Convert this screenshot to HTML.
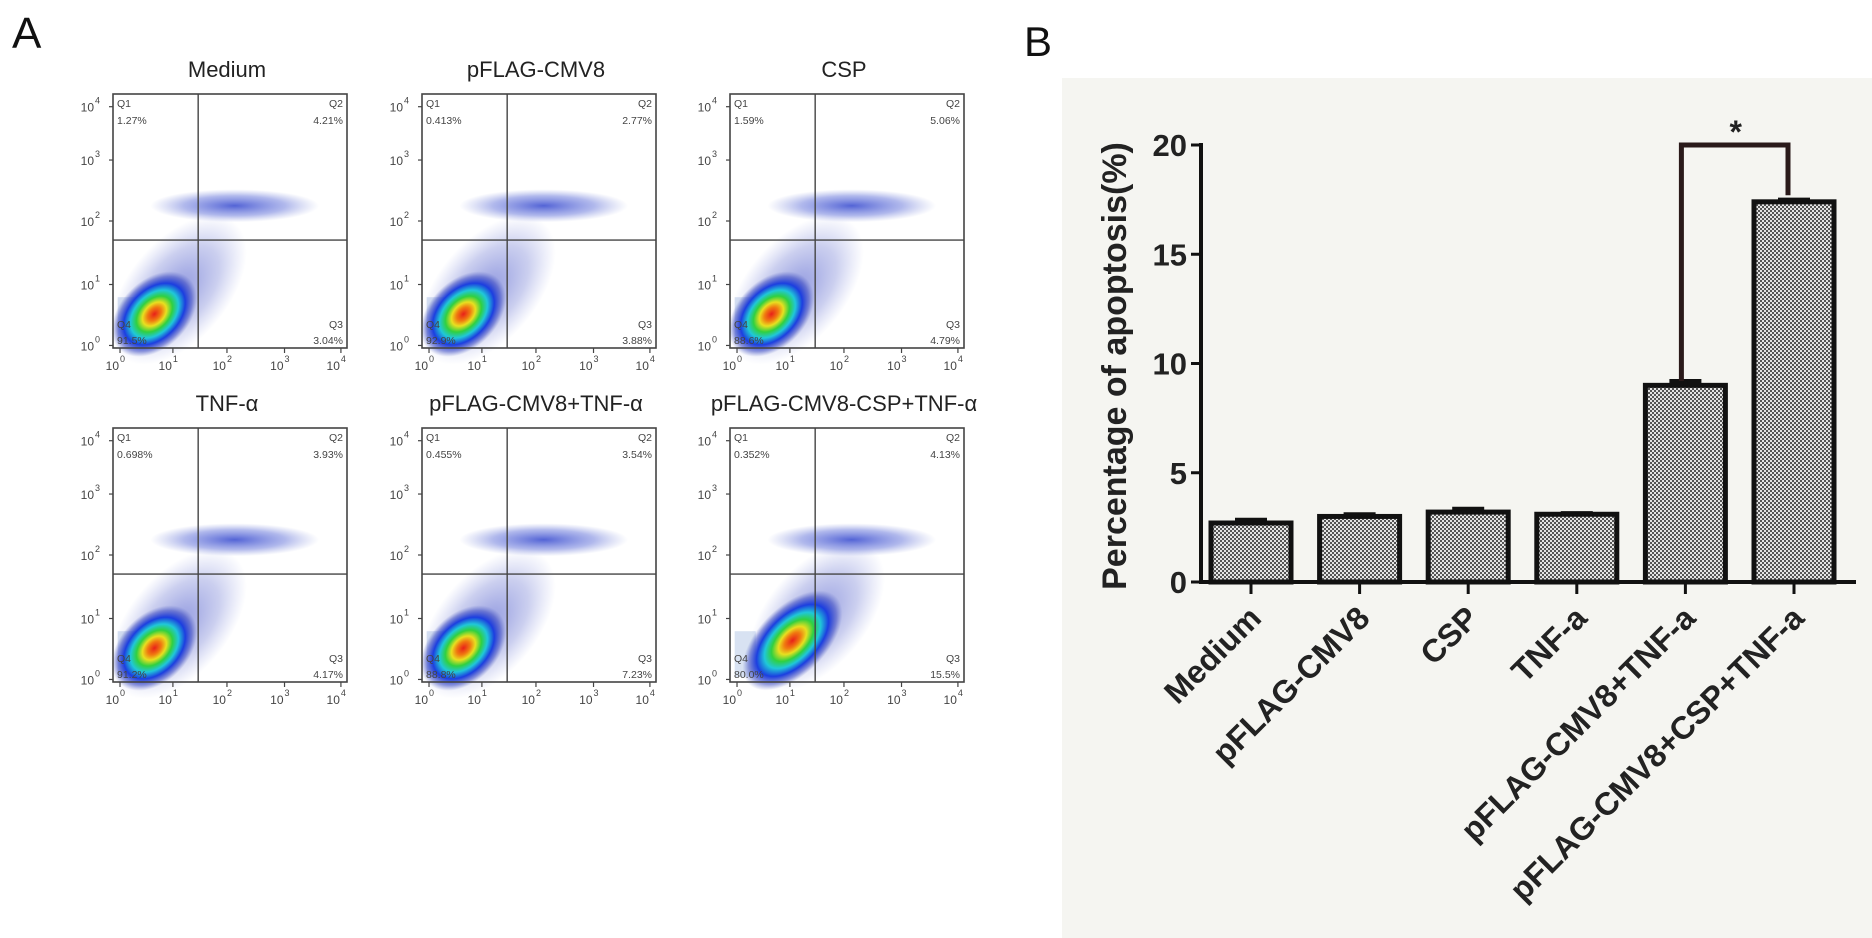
<!DOCTYPE html>
<html><head><meta charset="utf-8"><style>
html,body{margin:0;padding:0;background:#fff;}
svg{display:block;font-family:"Liberation Sans",Arial,sans-serif;}
</style></head><body>
<svg id="fig" width="1872" height="938" viewBox="0 0 1872 938" xmlns="http://www.w3.org/2000/svg">
<defs>
  <pattern id="checker" width="4" height="4" patternUnits="userSpaceOnUse">
    <rect width="4" height="4" fill="#e4e4e4"/>
    <rect width="2" height="2" fill="#555"/>
    <rect x="2" y="2" width="2" height="2" fill="#555"/>
  </pattern>
  <radialGradient id="dens" cx="0.5" cy="0.5" r="0.5">
    <stop offset="0" stop-color="#e8201a"/>
    <stop offset="0.16" stop-color="#f07a10"/>
    <stop offset="0.28" stop-color="#e8e020"/>
    <stop offset="0.42" stop-color="#30d040"/>
    <stop offset="0.56" stop-color="#20c8d8"/>
    <stop offset="0.72" stop-color="#1c3ee0"/>
    <stop offset="0.88" stop-color="#3040c0" stop-opacity="0.5"/>
    <stop offset="1" stop-color="#5060c0" stop-opacity="0"/>
  </radialGradient>
  <radialGradient id="halo" cx="0.5" cy="0.5" r="0.5">
    <stop offset="0" stop-color="#2030c0" stop-opacity="0.5"/>
    <stop offset="0.6" stop-color="#3040c0" stop-opacity="0.25"/>
    <stop offset="1" stop-color="#5060d0" stop-opacity="0"/>
  </radialGradient>
  <radialGradient id="band" cx="0.5" cy="0.5" r="0.5">
    <stop offset="0" stop-color="#1a30c8" stop-opacity="0.75"/>
    <stop offset="0.6" stop-color="#3a4ed0" stop-opacity="0.4"/>
    <stop offset="1" stop-color="#6070d0" stop-opacity="0"/>
  </radialGradient>
</defs>

<text x="12" y="48" font-size="44" fill="#111">A</text>
<text x="1024" y="56" font-size="42" fill="#111">B</text>

<g id="flow"></g>

<rect x="1062" y="78" width="810" height="860" fill="#f5f5f1"/>
<g id="bars"></g>

<script>
// ---------- Panel A data ----------
const flowTitles = ["Medium","pFLAG-CMV8","CSP","TNF-α","pFLAG-CMV8+TNF-α","pFLAG-CMV8-CSP+TNF-α"];
const q1Values = ["1.27%","0.413%","1.59%","0.698%","0.455%","0.352%"];
const q2Values = ["4.21%","2.77%","5.06%","3.93%","3.54%","4.13%"];
const q3Values = ["3.04%","3.88%","4.79%","4.17%","7.23%","15.5%"];
const q4Values = ["91.5%","92.9%","88.6%","91.2%","88.8%","80.0%"];
const logTicks = ["0","1","2","3","4"];

const NS = "http://www.w3.org/2000/svg";
function mk(tag, attrs, parent, text){
  const e = document.createElementNS(NS, tag);
  for (const k in attrs) e.setAttribute(k, attrs[k]);
  if (text !== undefined) e.textContent = text;
  parent.appendChild(e);
  return e;
}
const flow = document.getElementById('flow');
const plotLefts = [113, 422, 730];
const plotTops = [94, 428];
const W = 234, H = 254;
const yTickFrac = [0.99, 0.75, 0.50, 0.26, 0.05];
const xTickFrac = [0.03, 0.256, 0.487, 0.733, 0.974];

flowTitles.forEach((t, i) => {
  const x0 = plotLefts[i % 3], y0 = plotTops[Math.floor(i / 3)];
  const g = mk('g', {}, flow);
  
  
  const tt = mk('text', {x: x0 + W / 2 - 3, y: y0 - 17, 'font-size': 22, 'text-anchor': 'middle', fill: '#222'}, g, t);
  
  
  const vx = x0 + 0.364 * W, hy = y0 + 0.575 * H;
  const cx = x0 + (i === 5 ? 0.25 : 0.16) * W, cy = y0 + (i === 5 ? 0.86 : 0.89) * H;
  mk('rect', {x: x0 + 0.02 * W, y: y0 + 0.80 * H, width: 0.09 * W, height: 0.18 * H, fill: '#d8e2f2'}, g);
  mk('ellipse', {cx: cx + 28, cy: cy - 30, rx: 88, ry: 50, fill: 'url(#halo)', transform: `rotate(-50 ${cx + 28} ${cy - 30})`}, g);
  mk('ellipse', {cx: cx + 4, cy: cy - 6, rx: i === 5 ? 62 : 50, ry: 34, fill: 'url(#dens)', transform: `rotate(-45 ${cx + 4} ${cy - 6})`}, g);
  mk('ellipse', {cx: x0 + 0.52 * W, cy: y0 + 0.44 * H, rx: 0.36 * W, ry: 0.065 * H, fill: 'url(#band)'}, g);
  mk('rect', {x: x0, y: y0, width: W, height: H, fill: 'none', stroke: '#444', 'stroke-width': 1.6}, g);
  mk('line', {x1: vx, y1: y0, x2: vx, y2: y0 + H, stroke: '#444', 'stroke-width': 1.4}, g);
  mk('line', {x1: x0, y1: hy, x2: x0 + W, y2: hy, stroke: '#444', 'stroke-width': 1.4}, g);
  const fs = 10.5, col = '#444';
  mk('text', {x: x0 + 4, y: y0 + 13, 'font-size': fs, fill: col}, g, 'Q1');
  mk('text', {x: x0 + 4, y: y0 + 30, 'font-size': fs, fill: col}, g, q1Values[i]);
  mk('text', {x: x0 + W - 4, y: y0 + 13, 'font-size': fs, fill: col, 'text-anchor': 'end'}, g, 'Q2');
  mk('text', {x: x0 + W - 4, y: y0 + 30, 'font-size': fs, fill: col, 'text-anchor': 'end'}, g, q2Values[i]);
  mk('text', {x: x0 + 4, y: y0 + H - 20, 'font-size': fs, fill: col}, g, 'Q4');
  mk('text', {x: x0 + 4, y: y0 + H - 4, 'font-size': fs, fill: col}, g, q4Values[i]);
  mk('text', {x: x0 + W - 4, y: y0 + H - 20, 'font-size': fs, fill: col, 'text-anchor': 'end'}, g, 'Q3');
  mk('text', {x: x0 + W - 4, y: y0 + H - 4, 'font-size': fs, fill: col, 'text-anchor': 'end'}, g, q3Values[i]);
  logTicks.forEach((k, j) => {
    const ty = y0 + yTickFrac[j] * H;
    mk('line', {x1: x0 - 4, y1: ty, x2: x0, y2: ty, stroke: '#444', 'stroke-width': 1.2}, g);
    mk('text', {x: x0 - 19, y: ty + 5, 'font-size': 12, fill: '#444', 'text-anchor': 'end'}, g, '10');
    mk('text', {x: x0 - 18, y: ty - 3, 'font-size': 9, fill: '#444'}, g, k);
    const tx = x0 + xTickFrac[j] * W;
    mk('line', {x1: tx, y1: y0 + H, x2: tx, y2: y0 + H + 5, stroke: '#444', 'stroke-width': 1.2}, g);
    mk('text', {x: tx - 1, y: y0 + H + 22, 'font-size': 12, fill: '#444', 'text-anchor': 'end'}, g, '10');
    mk('text', {x: tx, y: y0 + H + 14, 'font-size': 9, fill: '#444'}, g, k);
  });
});

// ---------- Panel B data ----------
const categories = ["Medium","pFLAG-CMV8","CSP","TNF-a","pFLAG-CMV8+TNF-a","pFLAG-CMV8+CSP+TNF-a"];
const values = [2.7, 3.0, 3.2, 3.1, 9.0, 17.4];
const errors = [0.15, 0.1, 0.15, 0.05, 0.2, 0.1];
const yTicks = [0, 5, 10, 15, 20];
const sigPair = [4, 5];
const sigLevel = 20;

const bars = document.getElementById('bars');
const axX = 1201, y0px = 582, y20px = 145, axEnd = 1856;
const yScale = v => y0px - (v / 20) * (y0px - y20px);
const firstC = 1251, step = 108.6, bw = 80;
const xc = i => firstC + i * step;

const ya = mk('line', {x1: axX, y1: y20px - 2, x2: axX, y2: y0px + 2, stroke: '#111', 'stroke-width': 4}, bars);


const xa = mk('line', {x1: axX - 2, y1: y0px, x2: axEnd, y2: y0px, stroke: '#111', 'stroke-width': 4}, bars);



yTicks.forEach(v => {
  const y = yScale(v);
  mk('line', {x1: axX - 10, y1: y, x2: axX, y2: y, stroke: '#111', 'stroke-width': 3}, bars);
  const t = mk('text', {x: axX - 14, y: y + 11, 'font-size': 31, 'font-weight': 'bold', fill: '#222', 'text-anchor': 'end'}, bars, String(v));
  
  
});
const yt = mk('text', {x: 0, y: 0, 'font-size': 34, 'font-weight': 'bold', fill: '#222', 'text-anchor': 'middle', transform: 'translate(1126 366) rotate(-90)'}, bars, 'Percentage of apoptosis(%)');



values.forEach((v, i) => {
  const cx = xc(i), top = yScale(v);
  const r = mk('rect', {x: cx - bw / 2, y: top, width: bw, height: y0px - top, fill: 'url(#checker)', stroke: '#111', 'stroke-width': 5}, bars);
  
  
  const et = yScale(v + errors[i]);
  mk('line', {x1: cx - 16, y1: et, x2: cx + 16, y2: et, stroke: '#111', 'stroke-width': 4}, bars);
  mk('line', {x1: cx, y1: et, x2: cx, y2: top, stroke: '#111', 'stroke-width': 4}, bars);
  mk('line', {x1: cx, y1: y0px, x2: cx, y2: y0px + 12, stroke: '#111', 'stroke-width': 3}, bars);
  const lx = cx + 12, ly = y0px + 38;
  const lab = mk('text', {x: lx, y: ly, 'font-size': 32, 'font-weight': 'bold', fill: '#222', 'text-anchor': 'end', transform: `rotate(-45 ${lx} ${ly})`}, bars, categories[i]);
  
  
});

const sa = sigPair[0], sb = sigPair[1];
const sy = yScale(sigLevel);
const br = mk('path', {d: `M${xc(sa) - 4} ${yScale(values[sa] + errors[sa])} V${sy} H${xc(sb) - 6} V${yScale(values[sb] + 0.3)}`, fill: 'none', stroke: '#2a1a1a', 'stroke-width': 5}, bars);


const st = mk('text', {x: (xc(sa) + xc(sb)) / 2 - 4, y: sy - 2, 'font-size': 32, 'font-weight': 'bold', fill: '#222', 'text-anchor': 'middle'}, bars, '*');


</script>
</svg>
</body></html>
